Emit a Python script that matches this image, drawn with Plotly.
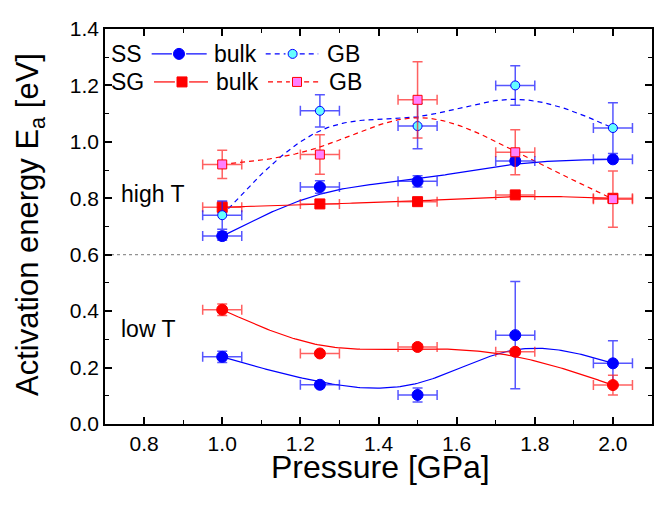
import numpy as np
import plotly.graph_objects as go

pressure = [1.0, 1.25, 1.5, 1.75, 2.0]
p_err = [0.05, 0.05, 0.05, 0.05, 0.05]

# high T
ss_bulk_high = [0.666, 0.840, 0.860, 0.932, 0.938]
ss_bulk_high_err = [0.015, 0.022, 0.02, 0.01, 0.01]
ss_gb_high = [0.740, 1.110, 1.056, 1.200, 1.049]
ss_gb_high_err = [0.05, 0.057, 0.08, 0.07, 0.09]
sg_bulk_high = [0.768, 0.780, 0.788, 0.812, 0.800]
sg_bulk_high_err = [0.02, 0.01, 0.01, 0.01, 0.01]
sg_gb_high = [0.920, 0.955, 1.149, 0.963, 0.797]
sg_gb_high_err = [0.05, 0.07, 0.135, 0.08, 0.10]

# low T
ss_bulk_low = [0.238, 0.139, 0.103, 0.315, 0.215]
ss_bulk_low_err = [0.02, 0.01, 0.025, 0.19, 0.08]
sg_bulk_low = [0.405, 0.250, 0.273, 0.256, 0.138]
sg_bulk_low_err = [0.02, 0.01, 0.01, 0.01, 0.035]

BLUE = "#0000FF"
RED = "#FF0000"
CYAN = "#66FFFF"
PINK = "#FF80FF"
BLUE_ERR = "rgba(30,30,255,0.75)"
RED_ERR = "rgba(255,30,30,0.7)"
FONT = "Arial, Liberation Sans, sans-serif"


def bspline(xs, ys, n=40):
    # uniform cubic B-spline, end points repeated so the curve is clamped
    px = np.r_[xs[0], xs[0], xs, xs[-1], xs[-1]]
    py = np.r_[ys[0], ys[0], ys, ys[-1], ys[-1]]
    t = np.linspace(0, 1, n)
    b = np.array([(1 - t) ** 3, 3 * t**3 - 6 * t**2 + 4, -3 * t**3 + 3 * t**2 + 3 * t + 1, t**3]) / 6
    cx, cy = [], []
    for i in range(len(px) - 3):
        cx.extend(b.T @ px[i:i + 4])
        cy.extend(b.T @ py[i:i + 4])
    return cx, cy


fig = go.Figure()

curves = [
    (ss_bulk_high, BLUE, "solid"),
    (sg_bulk_high, RED, "solid"),
    (ss_gb_high, BLUE, "5px,4px"),
    (sg_gb_high, RED, "5px,4px"),
    (ss_bulk_low, BLUE, "solid"),
    (sg_bulk_low, RED, "solid"),
]
for ys, color, dash in curves:
    cx, cy = bspline(pressure, ys)
    fig.add_scatter(x=cx, y=cy, mode="lines", line=dict(color=color, width=1.2, dash=dash),
                    hoverinfo="skip", showlegend=False)

points = [
    (ss_bulk_high, ss_bulk_high_err, "circle", 11, BLUE, BLUE, BLUE_ERR),
    (sg_bulk_high, sg_bulk_high_err, "square", 10, RED, RED, RED_ERR),
    (ss_bulk_low, ss_bulk_low_err, "circle", 11, BLUE, BLUE, BLUE_ERR),
    (sg_bulk_low, sg_bulk_low_err, "circle", 11, RED, RED, RED_ERR),
    (ss_gb_high, ss_gb_high_err, "circle", 9, CYAN, BLUE, BLUE_ERR),
    (sg_gb_high, sg_gb_high_err, "square", 9, PINK, RED, RED_ERR),
]
for ys, err, symbol, size, fill, edge, ecolor in points:
    fig.add_scatter(
        x=pressure, y=ys, mode="markers",
        marker=dict(symbol=symbol, size=size, color=fill, line=dict(color=edge, width=1)),
        error_y=dict(type="data", array=err, color=ecolor, thickness=1.5, width=5),
        error_x=dict(type="data", array=p_err, color=ecolor, thickness=1.5, width=5),
        showlegend=False,
    )

# hand-made legend on an overlay axis spanning the plot area
legend_rows = [
    (0.937, 0.0853, 0.1859, 0.1353, BLUE, "solid", "circle", 11, BLUE, BLUE),
    (0.937, 0.2938, 0.3898, 0.3430, BLUE, "5px,4px", "circle", 9, CYAN, BLUE),
    (0.866, 0.0896, 0.1883, 0.1408, RED, "solid", "square", 10, RED, RED),
    (0.866, 0.2980, 0.3930, 0.3510, RED, "5px,4px", "square", 9, PINK, RED),
]
gap = 0.013
for y, x0, x1, xm, lc, dash, sym, size, fill, edge in legend_rows:
    fig.add_scatter(x=[x0, xm - gap, None, xm + gap, x1], y=[y, y, None, y, y], mode="lines",
                    line=dict(color=lc, width=1.2, dash=dash), xaxis="x2", yaxis="y2",
                    hoverinfo="skip", showlegend=False)
    fig.add_scatter(x=[xm], y=[y], mode="markers",
                    marker=dict(symbol=sym, size=size, color=fill, line=dict(color=edge, width=1)),
                    xaxis="x2", yaxis="y2", hoverinfo="skip", showlegend=False)

legend_text = [("SS", 0.008, 0.937), ("bulk", 0.195, 0.937), ("GB", 0.402, 0.937),
               ("SG", 0.008, 0.866), ("bulk", 0.199, 0.866), ("GB", 0.405, 0.866)]
for txt, x, y in legend_text:
    fig.add_annotation(text=txt, x=x, y=y, xref="paper", yref="paper", xanchor="left",
                       yanchor="middle", showarrow=False, font=dict(size=23, family=FONT, color="black"))

fig.add_annotation(text="high T", x=0.735, y=0.815, xanchor="left", yanchor="middle",
                   showarrow=False, font=dict(size=23, family=FONT, color="black"))
fig.add_annotation(text="low T", x=0.735, y=0.335, xanchor="left", yanchor="middle",
                   showarrow=False, font=dict(size=23, family=FONT, color="black"))

fig.add_shape(type="line", xref="paper", x0=0, x1=1, y0=0.6, y1=0.6,
              line=dict(color="#777777", width=1, dash="dot"), layer="below")

# axis titles
fig.add_annotation(text="Pressure [GPa]", x=0.503, y=-0.11, xref="paper", yref="paper",
                   showarrow=False, yanchor="middle", font=dict(size=32, family=FONT, color="black"))
fig.add_annotation(text="Activation energy E<sub>a</sub> [eV]", x=-0.137, y=0.504, xref="paper",
                   yref="paper", showarrow=False, textangle=-90, xanchor="center", yanchor="middle",
                   font=dict(size=31, family=FONT, color="black"))

axis_common = dict(
    showline=True, linecolor="black", linewidth=1.5, mirror="allticks",
    ticks="inside", ticklen=7, tickwidth=1.5, tickcolor="black",
    showgrid=False, zeroline=False, tickformat=".1f", ticklabeloverflow="allow",
    tickfont=dict(size=21, family=FONT, color="black"),
    minor=dict(ticks="inside", ticklen=4, tickwidth=1.2, tickcolor="black", dtick=0.1),
)
# the page body adds an 8px offset, so the margins are shifted to keep the plot area in place
fig.update_layout(
    width=663, height=508,
    margin=dict(l=97, r=19, t=9, b=92),
    paper_bgcolor="white", plot_bgcolor="white",
    showlegend=False,
    xaxis=dict(range=[0.7, 2.1], tick0=0.8, dtick=0.2, **axis_common),
    yaxis=dict(range=[0, 1.4], tick0=0, dtick=0.2, **axis_common),
    xaxis2=dict(overlaying="x", range=[0, 1], visible=False),
    yaxis2=dict(overlaying="y", range=[0, 1], visible=False),
)

fig.write_html("out.html")
